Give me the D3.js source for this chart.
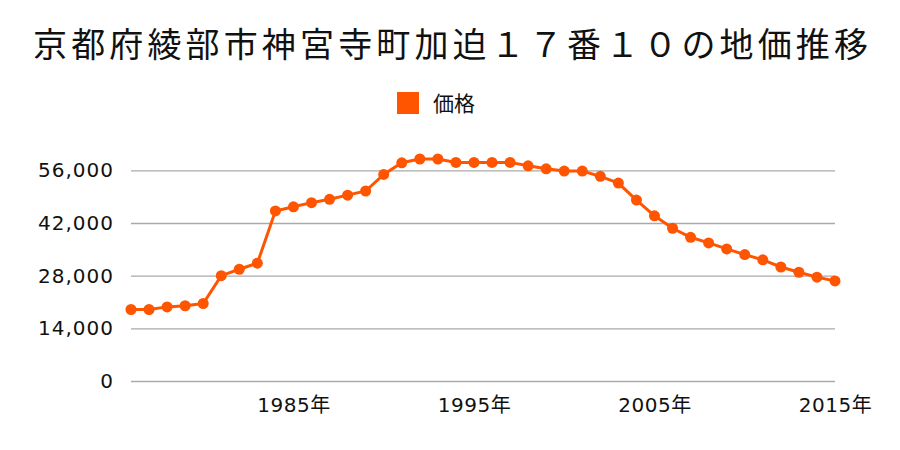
<!DOCTYPE html>
<html lang="ja">
  <head>
    <meta charset="utf-8">
    <title>京都府綾部市神宮寺町加迫１７番１０の地価推移</title>
    <script src="https://cdn.jsdelivr.net/npm/d3@7"></script>
    <style>
      body { margin: 0; background: #fff; }
      svg text { font-family: "Noto Sans CJK JP", "Noto Sans", sans-serif; fill: #111; }
      .tick text { font-family: "DejaVu Sans", "Noto Sans CJK JP", sans-serif; }
    </style>
  </head>
  <body>
    <div id="chart"></div>
    <script>
      // data
      var years = [1976, 1977, 1978, 1979, 1980, 1981, 1982, 1983, 1984, 1985,
                   1986, 1987, 1988, 1989, 1990, 1991, 1992, 1993, 1994, 1995,
                   1996, 1997, 1998, 1999, 2000, 2001, 2002, 2003, 2004, 2005,
                   2006, 2007, 2008, 2009, 2010, 2011, 2012, 2013, 2014, 2015];
      var prices = [19000, 19000, 19700, 20000, 20600, 28000, 29700, 31300, 45200, 46300,
                    47400, 48300, 49400, 50500, 54900, 58000, 59000, 59000, 58100, 58100,
                    58100, 58100, 57200, 56400, 55800, 55800, 54400, 52600, 48100, 43900,
                    40600, 38200, 36700, 35100, 33600, 32200, 30300, 28900, 27600, 26600];
      var yTicks = [0, 14000, 28000, 42000, 56000];
      var xTicks = [1985, 1995, 2005, 2015];
      var seriesName = "価格";
      var title = "京都府綾部市神宮寺町加迫１７番１０の地価推移";
      var color = "#ff5500";

      var width = 900, height = 450;
      var svg = d3.select("#chart").append("svg")
          .attr("width", width)
          .attr("height", height);

      var x = d3.scaleLinear().domain([1976, 2015]).range([131, 835]);
      var y = d3.scaleLinear().domain([0, 56000]).range([381, 170.3]);

      // title
      svg.append("text")
          .attr("x", 33)
          .attr("y", 57)
          .attr("font-size", 34)
          .attr("textLength", 835)
          .attr("lengthAdjust", "spacing")
          .text(title);

      // legend
      svg.append("rect")
          .attr("x", 397).attr("y", 92)
          .attr("width", 22).attr("height", 22)
          .attr("fill", color);
      svg.append("text")
          .attr("x", 433).attr("y", 111)
          .attr("font-size", 21)
          .text(seriesName);

      // grid + y labels
      var yAxis = d3.axisLeft(y)
          .tickValues(yTicks)
          .tickSize(-(835 - 131))
          .tickPadding(17)
          .tickFormat(d3.format(","));
      var gy = svg.append("g")
          .attr("transform", "translate(131,0)")
          .call(yAxis);
      gy.select(".domain").remove();
      gy.selectAll(".tick line").attr("stroke", "#aaa").attr("stroke-width", 1.3);
      gy.selectAll(".tick text")
          .attr("font-size", 20)
          .attr("letter-spacing", 1)
          .attr("fill", "#111");

      // x labels
      var xAxis = d3.axisBottom(x)
          .tickValues(xTicks)
          .tickSize(0)
          .tickPadding(17)
          .tickFormat(function(d) { return d + "年"; });
      var gx = svg.append("g")
          .attr("transform", "translate(0,381)")
          .call(xAxis);
      gx.select(".domain").remove();
      gx.selectAll(".tick text")
          .attr("font-size", 20)
          .attr("letter-spacing", 0.5)
          .attr("fill", "#111");

      var data = years.map(function(yr, i) { return {year: yr, value: prices[i]}; });

      var line = d3.line()
          .x(function(d) { return x(d.year); })
          .y(function(d) { return y(d.value); });

      svg.append("path")
          .datum(data)
          .attr("d", line)
          .attr("fill", "none")
          .attr("stroke", color)
          .attr("stroke-width", 3);

      svg.selectAll("circle.pt")
          .data(data)
          .enter()
          .append("circle")
          .attr("class", "pt")
          .attr("cx", function(d) { return x(d.year); })
          .attr("cy", function(d) { return y(d.value); })
          .attr("r", 5.5)
          .attr("fill", color);
    </script>
  </body>
</html>
